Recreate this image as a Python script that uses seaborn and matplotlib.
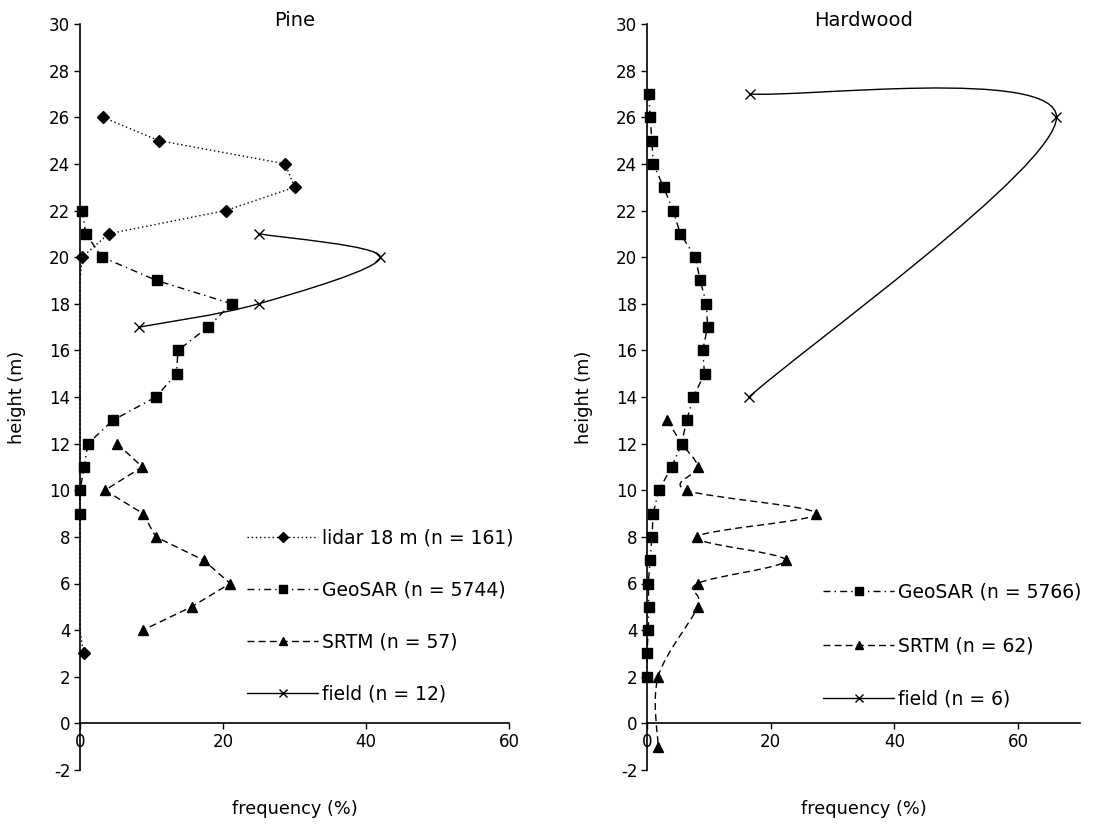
import numpy as np
import seaborn as sns
import matplotlib
matplotlib.use("Agg")
import matplotlib.pyplot as plt
from matplotlib.path import Path
from matplotlib.patches import PathPatch
from matplotlib.lines import Line2D

# Pine stand
pine_lidar_h = [26, 25, 24, 23, 22, 21, 20, 19, 18, 17, 16, 15, 14, 13, 12, 11, 10, 9, 8, 7, 6, 5, 4, 3]
pine_lidar_f = [3.2, 11.0, 28.7, 30.0, 20.4, 4.0, 0.3, 0, 0, 0, 0, 0, 0, 0, 0, 0, 0, 0, 0, 0, 0, 0, 0, 0.5]
pine_geosar_h = [22, 21, 20, 19, 18, 17, 16, 15, 14, 13, 12, 11, 10, 9]
pine_geosar_f = [0.3, 0.8, 3.1, 10.7, 21.2, 17.9, 13.7, 13.5, 10.6, 4.6, 1.1, 0.6, 0.0, 0.0]
pine_srtm_h = [12, 11, 10, 9, 8, 7, 6, 5, 4]
pine_srtm_f = [5.2, 8.7, 3.5, 8.8, 10.6, 17.3, 21.0, 15.6, 8.8]
pine_field_h = [21, 20, 18, 17]
pine_field_f = [25.1, 42.0, 25.0, 8.3]

# Hardwood stand
hard_geosar_h = [27, 26, 25, 24, 23, 22, 21, 20, 19, 18, 17, 16, 15, 14, 13, 12, 11, 10, 9, 8, 7, 6, 5, 4, 3, 2]
hard_geosar_f = [0.3, 0.5, 0.8, 1.0, 2.7, 4.2, 5.4, 7.8, 8.6, 9.6, 9.8, 9.0, 9.3, 7.5,
                 6.4, 5.6, 4.0, 1.9, 1.0, 0.8, 0.5, 0.2, 0.3, 0.2, 0.0, 0.0]
hard_srtm_h = [13, 12, 11, 10, 9, 8, 7, 6, 5, 2, -1]
hard_srtm_f = [3.3, 5.6, 8.2, 6.4, 27.4, 8.1, 22.4, 8.2, 8.2, 1.8, 1.8]
hard_field_h = [27, 26, 14]
hard_field_f = [16.6, 66.2, 16.5]

pine_labels = ["lidar 18 m (n = 161)", "GeoSAR (n = 5744)", "SRTM (n = 57)", "field (n = 12)"]
hard_labels = ["GeoSAR (n = 5766)", "SRTM (n = 62)", "field (n = 6)"]

sns.set_style("ticks")
plt.rcParams["font.family"] = ["DejaVu Sans"]
plt.rcParams["axes.unicode_minus"] = False
plt.rcParams["text.color"] = "black"
plt.rcParams["axes.labelcolor"] = "black"

LW = 1.0
styles = {
    "lidar": dict(marker="D", markersize=6, dashes=(1, 2)),
    "geosar": dict(marker="s", markersize=7.5, dashes=(5, 3, 1, 3)),
    "srtm": dict(marker="^", markersize=7.5, dashes=(5, 3)),
    "field": dict(marker="x", markersize=7, dashes=None),
}


def smooth_path(xs, ys):
    # Excel-like smoothed line (Catmull-Rom as cubic Bezier)
    pts = np.column_stack([xs, ys]).astype(float)
    n = len(pts)
    verts = [pts[0]]
    codes = [Path.MOVETO]
    for i in range(n - 1):
        p0 = pts[i - 1] if i > 0 else pts[i]
        p1, p2 = pts[i], pts[i + 1]
        p3 = pts[i + 2] if i + 2 < n else pts[i + 1]
        verts += [p1 + (p2 - p0) / 6, p2 - (p3 - p1) / 6, p2]
        codes += [Path.CURVE4] * 3
    return Path(verts, codes)


def draw(ax, f, h, kind, smooth=False, markevery=None):
    st = styles[kind]
    if smooth:
        ls = "-" if st["dashes"] is None else (0, st["dashes"])
        ax.add_patch(PathPatch(smooth_path(f, h), transform=ax.transData, fill=False,
                               edgecolor="black", lw=LW, linestyle=ls, clip_on=False))
        sns.lineplot(x=f, y=h, sort=False, estimator=None, ax=ax, color="black",
                     linestyle="none", marker=st["marker"], markersize=st["markersize"],
                     markeredgewidth=1.0, markeredgecolor="black", clip_on=False)
    else:
        kw = dict(linestyle="-") if st["dashes"] is None else dict(dashes=st["dashes"])
        sns.lineplot(x=f, y=h, sort=False, estimator=None, ax=ax, color="black", lw=LW,
                     marker=st["marker"], markersize=st["markersize"], markeredgewidth=1.0,
                     markeredgecolor="black", markevery=markevery, clip_on=False, **kw)


def handle(kind):
    st = styles[kind]
    kw = dict(linestyle="-") if st["dashes"] is None else dict(dashes=st["dashes"])
    return Line2D([], [], color="black", lw=LW, marker=st["marker"],
                  markersize=st["markersize"] * 0.85, markeredgecolor="black", **kw)


def style_axes(ax, title, xmax):
    ax.set_xlim(0, xmax)
    ax.set_ylim(-2, 30)
    ax.set_xticks([0, 20, 40, 60])
    ax.set_yticks(range(-2, 31, 2))
    ax.spines["bottom"].set_position(("data", 0))
    ax.spines["top"].set_visible(False)
    ax.spines["right"].set_visible(False)
    for s in ("left", "bottom"):
        ax.spines[s].set_linewidth(1.2)
        ax.spines[s].set_color("black")
    ax.tick_params(axis="both", direction="out", length=4, width=1.0, labelsize=12,
                   colors="black", pad=3)
    ax.text(0.5, 1.005, title, transform=ax.transAxes, ha="center", va="center",
            fontsize=14, color="black")
    ax.set_xlabel("frequency (%)", fontsize=12.8, color="black")
    ax.set_ylabel("height (m)", fontsize=12.8, color="black")
    ax.xaxis.set_label_coords(0.5, -0.04)
    ax.yaxis.set_label_coords(-0.125, 0.5)


fig = plt.figure(figsize=(10.99, 8.25), dpi=100)
W, H = 1099, 825
ax1 = fig.add_axes([80 / W, (H - 770) / H, 429 / W, 746 / H])
ax2 = fig.add_axes([647 / W, (H - 770) / H, 433 / W, 746 / H])

lidar_marks = [i for i, v in enumerate(pine_lidar_f) if v > 0]
draw(ax1, pine_lidar_f, pine_lidar_h, "lidar", markevery=lidar_marks)
draw(ax1, pine_geosar_f, pine_geosar_h, "geosar")
draw(ax1, pine_srtm_f, pine_srtm_h, "srtm")
draw(ax1, pine_field_f, pine_field_h, "field", smooth=True)

draw(ax2, hard_geosar_f, hard_geosar_h, "geosar")
draw(ax2, hard_srtm_f, hard_srtm_h, "srtm", smooth=True)
draw(ax2, hard_field_f, hard_field_h, "field", smooth=True)

style_axes(ax1, "Pine", 60)
style_axes(ax2, "Hardwood", 70)

leg_kw = dict(loc="upper left", frameon=False, fontsize=13.5, handlelength=3.8,
              handletextpad=0.2, labelspacing=1.75, borderpad=0, borderaxespad=0,
              numpoints=1, bbox_transform=fig.transFigure, labelcolor="black")
ax1.legend([handle(k) for k in ["lidar", "geosar", "srtm", "field"]], pine_labels,
           bbox_to_anchor=(247 / W, 1 - 529 / H), **leg_kw)
ax2.legend([handle(k) for k in ["geosar", "srtm", "field"]], hard_labels,
           bbox_to_anchor=(823 / W, 1 - 583 / H), **dict(leg_kw, labelspacing=1.82))

fig.savefig("out.png", dpi=100)
